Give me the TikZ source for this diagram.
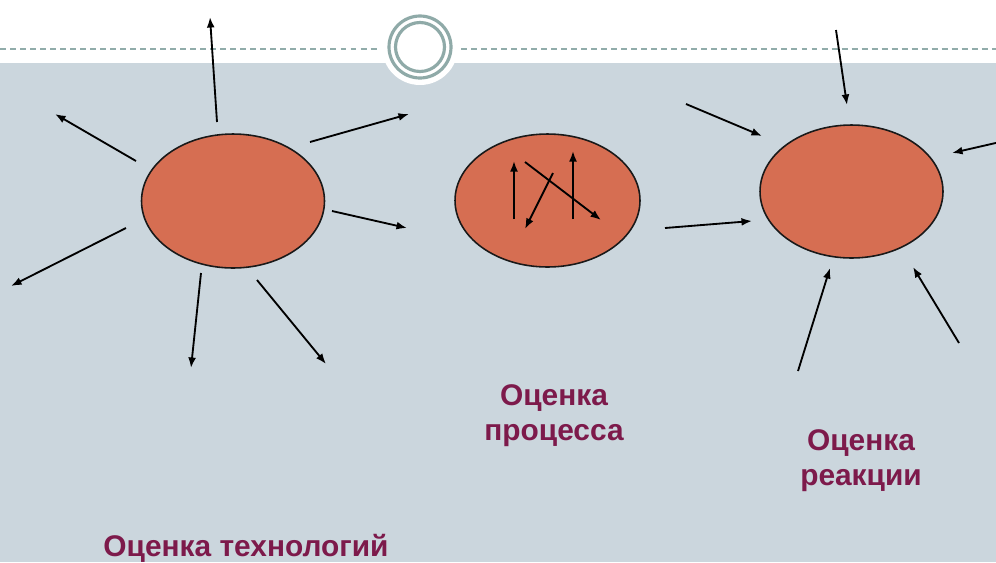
\documentclass[tikz,border=0pt]{standalone}
\usepackage{fontspec}
\setmainfont{Liberation Sans}
\usetikzlibrary{shapes.geometric,arrows.meta}
\definecolor{bgGrey}{RGB}{203,214,221}
\definecolor{ringTeal}{RGB}{143,170,168}
\definecolor{dashTeal}{RGB}{145,172,170}
\definecolor{blobFill}{RGB}{214,110,82}
\definecolor{labelRed}{RGB}{125,26,75}
\tikzset{
  blob/.style={ellipse, draw=black!90, line width=0.9pt, fill=blobFill, inner sep=0pt},
  ray/.style={line width=1.05pt, -{Latex[length=6pt,width=4.5pt]}},
  lbl/.style={text=labelRed, font=\bfseries\fontsize{17}{20}\selectfont, align=center},
  dashline/.style={draw=dashTeal, line width=1.3pt, dash pattern=on 3.4pt off 2.3pt},
}
\begin{document}
\begin{tikzpicture}[x=0.02cm,y=-0.02cm]
\useasboundingbox (0,0) rectangle (996,562);
\fill[white] (0,0) rectangle (996,562);
\fill[bgGrey] (0,63) rectangle (996,562);
\fill[white] (420,47) circle (38);
\draw[dashline] (0,49) -- (377,49);
\draw[dashline] (461,49) -- (996,49);
\draw[ringTeal, line width=1.8pt] (420,47) circle (31);
\draw[ringTeal, line width=1.8pt] (420,47) circle (24.5);

% ellipses
\node[blob, minimum width=3.66cm, minimum height=2.68cm] (tech) at (233,201) {};
\node[blob, minimum width=3.70cm, minimum height=2.66cm] (proc) at (547.5,200.5) {};
\node[blob, minimum width=3.66cm, minimum height=2.66cm] (react) at (851.5,191.5) {};

% rays out of left ellipse
\coordinate (t1s) at (217,122); \coordinate (t1e) at (210,17);
\coordinate (t2s) at (136,161); \coordinate (t2e) at (55,114);
\coordinate (t3s) at (310,142); \coordinate (t3e) at (409,114);
\coordinate (t4s) at (332,211); \coordinate (t4e) at (407,228);
\coordinate (t5s) at (126,228); \coordinate (t5e) at (11,286);
\coordinate (t6s) at (201,273); \coordinate (t6e) at (191,368);
\coordinate (t7s) at (257,280); \coordinate (t7e) at (326,364);
\foreach \i in {1,...,7} \draw[ray] (t\i s) -- (t\i e);

% arrows inside middle ellipse
\coordinate (p1s) at (514,219); \coordinate (p1e) at (514,161);
\coordinate (p2s) at (525,162); \coordinate (p2e) at (601,220);
\coordinate (p3s) at (553,173); \coordinate (p3e) at (525,229);
\coordinate (p4s) at (573,219); \coordinate (p4e) at (573,151);
\foreach \i in {1,...,4} \draw[ray] (p\i s) -- (p\i e);

% rays into right ellipse
\coordinate (r1s) at (836,30);  \coordinate (r1e) at (847,105);
\coordinate (r2s) at (686,104); \coordinate (r2e) at (762,136);
\coordinate (r3s) at (1000,142); \coordinate (r3e) at (952,153);
\coordinate (r4s) at (665,228); \coordinate (r4e) at (752,221);
\coordinate (r5s) at (798,371); \coordinate (r5e) at (830,268);
\coordinate (r6s) at (959,343); \coordinate (r6e) at (913,267);
\begin{scope}
\clip (0,0) rectangle (996,562);
\foreach \i in {1,...,6} \draw[ray] (r\i s) -- (r\i e);
\end{scope}

% labels
\node[lbl] (lproc) at (554,416) {Оценка\\процесса};
\node[lbl] (lreact) at (861,461) {Оценка\\реакции};
\node[lbl] (ltech) at (246,548) {Оценка технологий};
\end{tikzpicture}
\end{document}
